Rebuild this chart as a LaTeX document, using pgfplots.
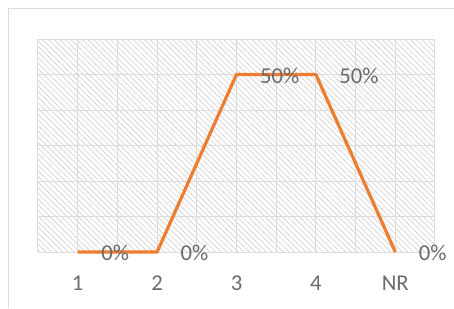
\documentclass[border=0pt]{standalone}
\usepackage{pgfplots}
\pgfplotsset{compat=1.18}
\usepackage{fontspec}
\setmainfont{Carlito}
\usetikzlibrary{patterns.meta}
\definecolor{xlorange}{HTML}{ED7D31}
\definecolor{txtgray}{HTML}{6A6A6A}
\definecolor{gridgray}{HTML}{DCDCDC}
\begin{document}
\begin{tikzpicture}
\path[use as bounding box] (0pt,0pt) rectangle (340.5pt,231pt);
\draw[gridgray, line width=0.75pt] (6pt,0pt) -- (6pt,225pt) -- (340.5pt,225pt);
\begin{axis}[
  at={(28.5pt,42pt)}, anchor=south west,
  scale only axis,
  width=297.75pt, height=159.75pt,
  xmin=-0.5, xmax=4.5, ymin=0, ymax=60,
  xtick={0,1,2,3,4},
  xticklabels={1,2,3,4,NR},
  minor xtick={-0.5,0.5,1.5,2.5,3.5,4.5},
  ytick={0,10,20,30,40,50,60},
  yticklabels={},
  major tick length=0pt, minor tick length=0pt,
  xmajorgrids, xminorgrids, ymajorgrids,
  grid style={gridgray, line width=0.75pt},
  minor grid style={gridgray, line width=0.75pt},
  axis line style={draw=none},
  axis background/.style={pattern={Lines[angle=-45,distance=3pt,line width=0.5pt]}, pattern color=black!18},
  /pgf/number format/assume math mode=true,
  tick label style={font=\fontsize{17}{20}\selectfont, text=txtgray},
  xticklabel style={anchor=north, yshift=-18pt, inner sep=0pt},
  clip=false,
  nodes near coords={\pgfmathprintnumber[fixed,assume math mode=true]{\pgfplotspointmeta}\%},
  every node near coord/.append style={anchor=west, inner sep=0pt, xshift=16.5pt, yshift=-1pt, font=\fontsize{17}{20}\selectfont, text=txtgray},
]
\addplot[xlorange, line width=2.4pt, line join=round, mark=none] coordinates {
  (0,0) (1,0) (2,50) (3,50) (4,0)
};
\end{axis}
\end{tikzpicture}
\end{document}
